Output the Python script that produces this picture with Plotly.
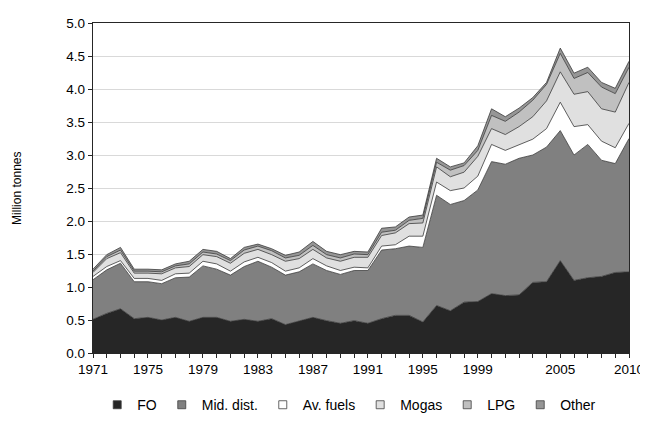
import plotly.graph_objects as go

years = list(range(1971, 2011))

fo = [0.51, 0.60, 0.67, 0.52, 0.54, 0.50, 0.54, 0.48, 0.54, 0.54,
      0.48, 0.51, 0.48, 0.52, 0.43, 0.48, 0.54, 0.49, 0.45, 0.49,
      0.45, 0.52, 0.57, 0.57, 0.47, 0.72, 0.64, 0.77, 0.78, 0.90,
      0.87, 0.88, 1.07, 1.08, 1.40, 1.10, 1.14, 1.16, 1.22, 1.23]
mid_dist = [0.60, 0.66, 0.69, 0.56, 0.54, 0.55, 0.60, 0.67, 0.78, 0.73,
            0.70, 0.80, 0.91, 0.78, 0.75, 0.75, 0.81, 0.76, 0.74, 0.76,
            0.80, 1.04, 1.01, 1.05, 1.13, 1.67, 1.61, 1.54, 1.69, 2.00,
            1.99, 2.07, 1.93, 2.04, 1.97, 1.90, 2.02, 1.76, 1.65, 2.02]
av_fuels = [0.05, 0.05, 0.04, 0.05, 0.05, 0.05, 0.06, 0.06, 0.07, 0.08,
            0.06, 0.07, 0.06, 0.07, 0.06, 0.06, 0.08, 0.07, 0.06, 0.05,
            0.04, 0.06, 0.06, 0.15, 0.17, 0.20, 0.21, 0.19, 0.21, 0.26,
            0.21, 0.20, 0.24, 0.28, 0.43, 0.43, 0.30, 0.29, 0.24, 0.23]
mogas = [0.06, 0.12, 0.12, 0.08, 0.08, 0.10, 0.09, 0.10, 0.10, 0.11,
         0.12, 0.13, 0.12, 0.12, 0.15, 0.14, 0.14, 0.12, 0.14, 0.15,
         0.16, 0.16, 0.18, 0.19, 0.20, 0.23, 0.21, 0.24, 0.30, 0.24,
         0.24, 0.28, 0.34, 0.42, 0.46, 0.49, 0.50, 0.49, 0.54, 0.62]
lpg = [0.02, 0.03, 0.04, 0.03, 0.03, 0.03, 0.03, 0.04, 0.04, 0.04,
       0.04, 0.05, 0.05, 0.06, 0.05, 0.05, 0.06, 0.05, 0.05, 0.05,
       0.04, 0.05, 0.04, 0.05, 0.07, 0.07, 0.10, 0.10, 0.09, 0.20,
       0.20, 0.22, 0.25, 0.25, 0.28, 0.24, 0.29, 0.33, 0.28, 0.23]
other = [0.03, 0.03, 0.04, 0.03, 0.03, 0.03, 0.03, 0.04, 0.04, 0.04,
         0.03, 0.04, 0.03, 0.03, 0.04, 0.05, 0.06, 0.05, 0.05, 0.04,
         0.04, 0.06, 0.05, 0.05, 0.05, 0.06, 0.05, 0.04, 0.07, 0.10,
         0.07, 0.06, 0.04, 0.03, 0.08, 0.08, 0.08, 0.07, 0.08, 0.09]

series_names = ["FO", "Mid. dist.", "Av. fuels", "Mogas", "LPG", "Other"]
series_values = [fo, mid_dist, av_fuels, mogas, lpg, other]
series_colors = ["#262626", "#808080", "#ffffff", "#e0e0e0", "#c0c0c0", "#969696"]

tick_vals = [1971, 1975, 1979, 1983, 1987, 1991, 1995, 1999, 2005, 2010]

font_family = "Liberation Sans, Arial, sans-serif"

fig = go.Figure()
for name, vals, col in zip(series_names, series_values, series_colors):
    fig.add_trace(go.Scatter(
        x=years, y=vals, name=name, mode="lines",
        stackgroup="one", fillcolor=col, legendgroup=name, showlegend=False,
        line=dict(color="#3a3a3a", width=0.8),
    ))
# legend-only entries with square swatches
for name, col in zip(series_names, series_colors):
    fig.add_trace(go.Scatter(
        x=[None], y=[None], name=name, mode="markers", legendgroup=name,
        marker=dict(symbol="square", size=8, color=col,
                    line=dict(color="#404040", width=0.8)),
        showlegend=True, hoverinfo="skip",
    ))

fig.update_layout(
    width=640, height=422,
    margin=dict(l=85, r=19, t=15, b=77, autoexpand=False),
    paper_bgcolor="white", plot_bgcolor="white",
    font=dict(family=font_family, size=13, color="#000000"),
    showlegend=True,
    legend=dict(orientation="h", x=0.478, xanchor="center", y=-0.158, yanchor="middle",
                font=dict(size=14), traceorder="normal", itemwidth=30,
                tracegroupgap=0),
    xaxis=dict(
        range=[1971, 2010], showgrid=False, zeroline=False, automargin=False,
        showline=True, linecolor="#262626", linewidth=1.3, mirror=True,
        ticks="outside", ticklen=4, tickcolor="#262626", tickwidth=1,
        tickvals=years,
        ticktext=[str(y) if y in tick_vals else "" for y in years],
        tickfont=dict(size=13.5),
    ),
    yaxis=dict(
        range=[0, 5], dtick=0.5, tickformat=".1f", automargin=False,
        showgrid=True, gridcolor="#d9d9d9", gridwidth=1.2, zeroline=False,
        showline=True, linecolor="#262626", linewidth=1.3, mirror=True,
        ticks="outside", ticklen=4, tickcolor="#262626",
        tickfont=dict(size=13.5),
    ),
    annotations=[dict(
        text="Million tonnes", xref="paper", yref="paper",
        x=-0.142, y=0.5, xanchor="center", yanchor="middle",
        textangle=-90, showarrow=False, font=dict(size=12),
    )],
)

fig.write_html("out.html")
